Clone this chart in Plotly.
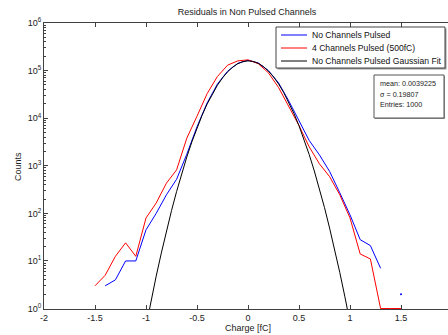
import plotly.graph_objects as go

# ---- data ----
x_blue = [-1.4, -1.3, -1.2, -1.1, -1.0, -0.9, -0.8, -0.7, -0.6, -0.5, -0.4, -0.3, -0.2, -0.1,
          0.0, 0.1, 0.2, 0.3, 0.4, 0.5, 0.6, 0.7, 0.8, 0.9, 1.0, 1.1, 1.2, 1.3]
y_blue = [3, 4, 10, 10, 45, 100, 245, 520, 1750, 6600, 21000, 52000, 97000, 142000,
          165000, 145000, 100000, 55000, 23000, 8500, 3400, 1700, 760, 270, 93, 28, 21, 7]

x_blue_extra = [1.5]
y_blue_extra = [2]

x_red = [-1.5, -1.4, -1.3, -1.2, -1.1, -1.0, -0.9, -0.8, -0.7, -0.6, -0.5, -0.4, -0.3, -0.2, -0.1,
         0.0, 0.1, 0.2, 0.3, 0.4, 0.5, 0.6, 0.7, 0.8, 0.9, 1.0, 1.1, 1.2, 1.3, 1.4, 1.5]
y_red = [3, 5, 12.5, 24, 12.5, 80, 165, 430, 820, 3800, 11000, 33000, 75000, 130000, 160000,
         168000, 140000, 90000, 44000, 17500, 7000, 2500, 1100, 590, 245, 80, 14, 11, 1, 1, 1]

x_fit = [-1.0, -0.95, -0.9, -0.85, -0.8, -0.75, -0.7, -0.65, -0.6, -0.55, -0.5, -0.45, -0.4,
         -0.35, -0.3, -0.25, -0.2, -0.15, -0.1, -0.05, 0.0, 0.05, 0.1, 0.15, 0.2, 0.25, 0.3,
         0.35, 0.4, 0.45, 0.5, 0.55, 0.6, 0.65, 0.7, 0.75, 0.8, 0.85, 0.9, 0.95, 1.0]
y_fit = [0.42, 1.46, 4.8, 14.6, 42, 114, 288, 684, 1530, 3190, 6270, 11560, 19950,
         32400, 49200, 70300, 94100, 118300, 139300, 154200, 160000, 155600, 142200, 121800,
         97900, 73900, 52300, 34700, 21600, 12600, 6930, 3560, 1720, 778, 331, 132, 49, 17.3,
         5.7, 1.76, 0.51]

x_ticks = [-2, -1.5, -1, -0.5, 0, 0.5, 1, 1.5]
x_ticklabels = ["-2", "-1.5", "-1", "-0.5", "0", "0.5", "1", "1.5"]
y_ticks = [1, 10, 100, 1000, 10000, 100000, 1000000]
y_ticklabels = ["10<sup>0</sup>", "10<sup>1</sup>", "10<sup>2</sup>", "10<sup>3</sup>",
                "10<sup>4</sup>", "10<sup>5</sup>", "10<sup>6</sup>"]

names = ["No Channels Pulsed", "4 Channels Pulsed (500fC)", "No Channels Pulsed Gaussian Fit"]
colors = ["#0000ff", "#ff0000", "#000000"]
stats_lines = ["mean: 0.0039225", "σ = 0.19807", "Entries: 1000"]
title_text = "Residuals in Non Pulsed Channels"

FONT = "Liberation Sans, Arial, sans-serif"
W, H = 448, 335
L, R, T, B = 44, 0, 23, 26
PW, PH = W - L - R, H - T - B


def px(p):
    return (p - L) / PW


def py(p):
    return (H - B - p) / PH


fig = go.Figure()
fig.add_trace(go.Scatter(x=x_blue, y=y_blue, mode="lines", name=names[0],
                         line=dict(color=colors[0], width=1)))
fig.add_trace(go.Scatter(x=x_red, y=y_red, mode="lines", name=names[1],
                         line=dict(color=colors[1], width=1)))
fig.add_trace(go.Scatter(x=x_fit, y=y_fit, mode="lines", name=names[2],
                         line=dict(color=colors[2], width=1)))
fig.add_trace(go.Scatter(x=x_blue_extra, y=y_blue_extra, mode="markers",
                         marker=dict(color=colors[0], size=2)))

minor_vals = [m * 10 ** e for e in range(0, 6) for m in range(2, 10)]

fig.update_layout(
    width=W, height=H,
    margin=dict(l=L, r=R, t=T, b=B, autoexpand=False),
    paper_bgcolor="white", plot_bgcolor="white",
    font=dict(family=FONT, size=9, color="#222222"),
    title=dict(text=title_text, xref="container", yref="container",
               x=247 / W, y=1 - 12 / H, xanchor="center", yanchor="middle",
               font=dict(size=9, color="#222222")),
    showlegend=False,
    xaxis=dict(range=[-2, -2 + PW / 102], tickmode="array", tickvals=x_ticks,
               ticktext=x_ticklabels, ticks="inside", ticklen=4, tickcolor="#404040",
               showline=True, linecolor="#404040", linewidth=1, mirror="ticks",
               showgrid=False, zeroline=False, layer="below traces",
               tickfont=dict(size=9)),
    yaxis=dict(type="log", range=[-0.01, 6], tickmode="array", tickvals=y_ticks,
               ticktext=y_ticklabels, ticks="inside", ticklen=4, tickcolor="#404040",
               showline=True, linecolor="#404040", linewidth=1, mirror=False,
               showgrid=False, zeroline=False, layer="below traces",
               tickfont=dict(size=9),
               minor=dict(tickmode="array", tickvals=minor_vals, ticks="inside",
                          ticklen=2, tickcolor="#404040", showgrid=False)),
)

# axis titles
fig.add_annotation(text="Counts", xref="paper", yref="paper", x=px(18), y=py(167),
                   textangle=-90, showarrow=False,
                   xanchor="center", yanchor="middle", font=dict(size=9))
fig.add_annotation(text="Charge [fC]", xref="x", yref="paper", x=0, y=py(328),
                   showarrow=False, xanchor="center", yanchor="middle",
                   font=dict(size=9))

# legend box (with a small shadow)
lx0, ly0, lx1, ly1 = 276, 27, 445, 68
fig.add_shape(type="rect", xref="paper", yref="paper", x0=px(lx0 + 1.5), x1=px(lx1 + 1.5),
              y0=py(ly1 + 1.5), y1=py(ly0 + 1.5), line=dict(width=0), fillcolor="#999999")
fig.add_shape(type="rect", xref="paper", yref="paper", x0=px(lx0), x1=px(lx1),
              y0=py(ly1), y1=py(ly0), line=dict(color="#444444", width=1), fillcolor="white")
for i, (nm, c) in enumerate(zip(names, colors)):
    yy = 35 + 13 * i
    fig.add_shape(type="line", xref="paper", yref="paper", x0=px(281), x1=px(307),
                  y0=py(yy), y1=py(yy), line=dict(color=c, width=1))
    fig.add_annotation(text=nm, xref="paper", yref="paper", x=px(310), y=py(yy),
                       xanchor="left", yanchor="middle", showarrow=False,
                       font=dict(size=8.6, color="#111111"))

# stats box
sx0, sy0, sx1, sy1 = 374, 75, 444, 118
fig.add_shape(type="rect", xref="paper", yref="paper", x0=px(sx0 + 1), x1=px(sx1 + 1),
              y0=py(sy1 + 1), y1=py(sy0 + 1), line=dict(width=0), fillcolor="#999999")
fig.add_shape(type="rect", xref="paper", yref="paper", x0=px(sx0), x1=px(sx1),
              y0=py(sy1), y1=py(sy0), line=dict(color="#555555", width=1), fillcolor="white")
for i, s in enumerate(stats_lines):
    yy = 83 + 11 * i
    fig.add_annotation(text=s, xref="paper", yref="paper", x=px(378), y=py(yy),
                       xanchor="left", yanchor="middle", showarrow=False,
                       font=dict(size=7.2, color="#222222"))

fig.write_html("out.html", config={"displayModeBar": False},
               post_script="document.body.style.margin='0px';")
